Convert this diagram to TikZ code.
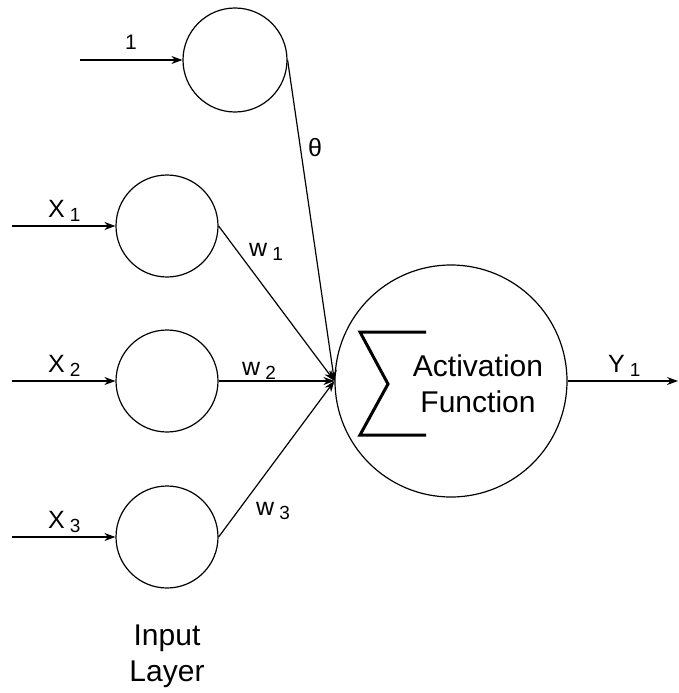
\documentclass[tikz,border=0pt]{standalone}
\usepackage{fontspec}
\setmainfont{Liberation Sans}
\usetikzlibrary{arrows.meta}
\newcommand{\lowsub}[1]{\hspace{5pt}\raisebox{-4.5pt}{\fontsize{19}{19}\selectfont #1}}
\begin{document}
\begin{tikzpicture}[x=1pt,y=-1pt,
  neuron/.style={draw,circle,line width=1.2pt,minimum size=102pt,inner sep=0pt},
  conn/.style={line width=1.2pt,-{Stealth[length=11pt,width=8pt]}},
  lbl/.style={anchor=base west,inner sep=0pt,font=\fontsize{25}{25}\selectfont},
  sigmaline/.style={line width=3pt,line join=miter}]
\useasboundingbox (0,0) rectangle (678,693);
% neurons
\node[neuron,minimum size=104pt] (c0) at (235,60) {};
\node[neuron] (c1) at (167,226) {};
\node[neuron] (c2) at (167,381) {};
\node[neuron] (c3) at (167,537) {};
\node[neuron,minimum size=232pt] (big) at (451,381) {};
% input free ends
\coordinate (i0) at (80,60);
\coordinate (i1) at (12,226);
\coordinate (i2) at (12,381);
\coordinate (i3) at (12,537);
\coordinate (out) at (678,381);
% arrows
\draw[conn] (i0) -- (c0.west);
\draw[conn] (i1) -- (c1.west);
\draw[conn] (i2) -- (c2.west);
\draw[conn] (i3) -- (c3.west);
\draw[conn] (c0.east) -- (big.west);
\draw[conn] (c1.east) -- (big.west);
\draw[conn] (c2.east) -- (big.west);
\draw[conn] (c3.east) -- (big.west);
\draw[conn] (big.east) -- (out);
% labels
\node[lbl,font=\fontsize{21}{21}\selectfont] (l0) at (125,50) {1};
\node[lbl] (l1) at (48,217) {X\lowsub{1}};
\node[lbl] (l2) at (48,372) {X\lowsub{2}};
\node[lbl] (l3) at (48,528) {X\lowsub{3}};
\node[lbl] (th) at (308,156) {θ};
\node[lbl] (w1) at (249,256) {w\lowsub{1}};
\node[lbl] (w2) at (242,375) {w\lowsub{2}};
\node[lbl] (w3) at (256,515) {w\lowsub{3}};
\node[lbl] (y1) at (608,372) {Y\lowsub{1}};
% sigma
\draw[sigmaline] (426,332) -- (360,332) -- (388,384) -- (360,435) -- (426,435);
\node[align=center,font=\fontsize{30}{36}\selectfont,inner sep=0pt] (act) at (478,384) {Activation\\Function};
\node[align=center,font=\fontsize{30}{36}\selectfont,inner sep=0pt] (inl) at (167,656) {Input\\Layer};
\end{tikzpicture}
\end{document}
